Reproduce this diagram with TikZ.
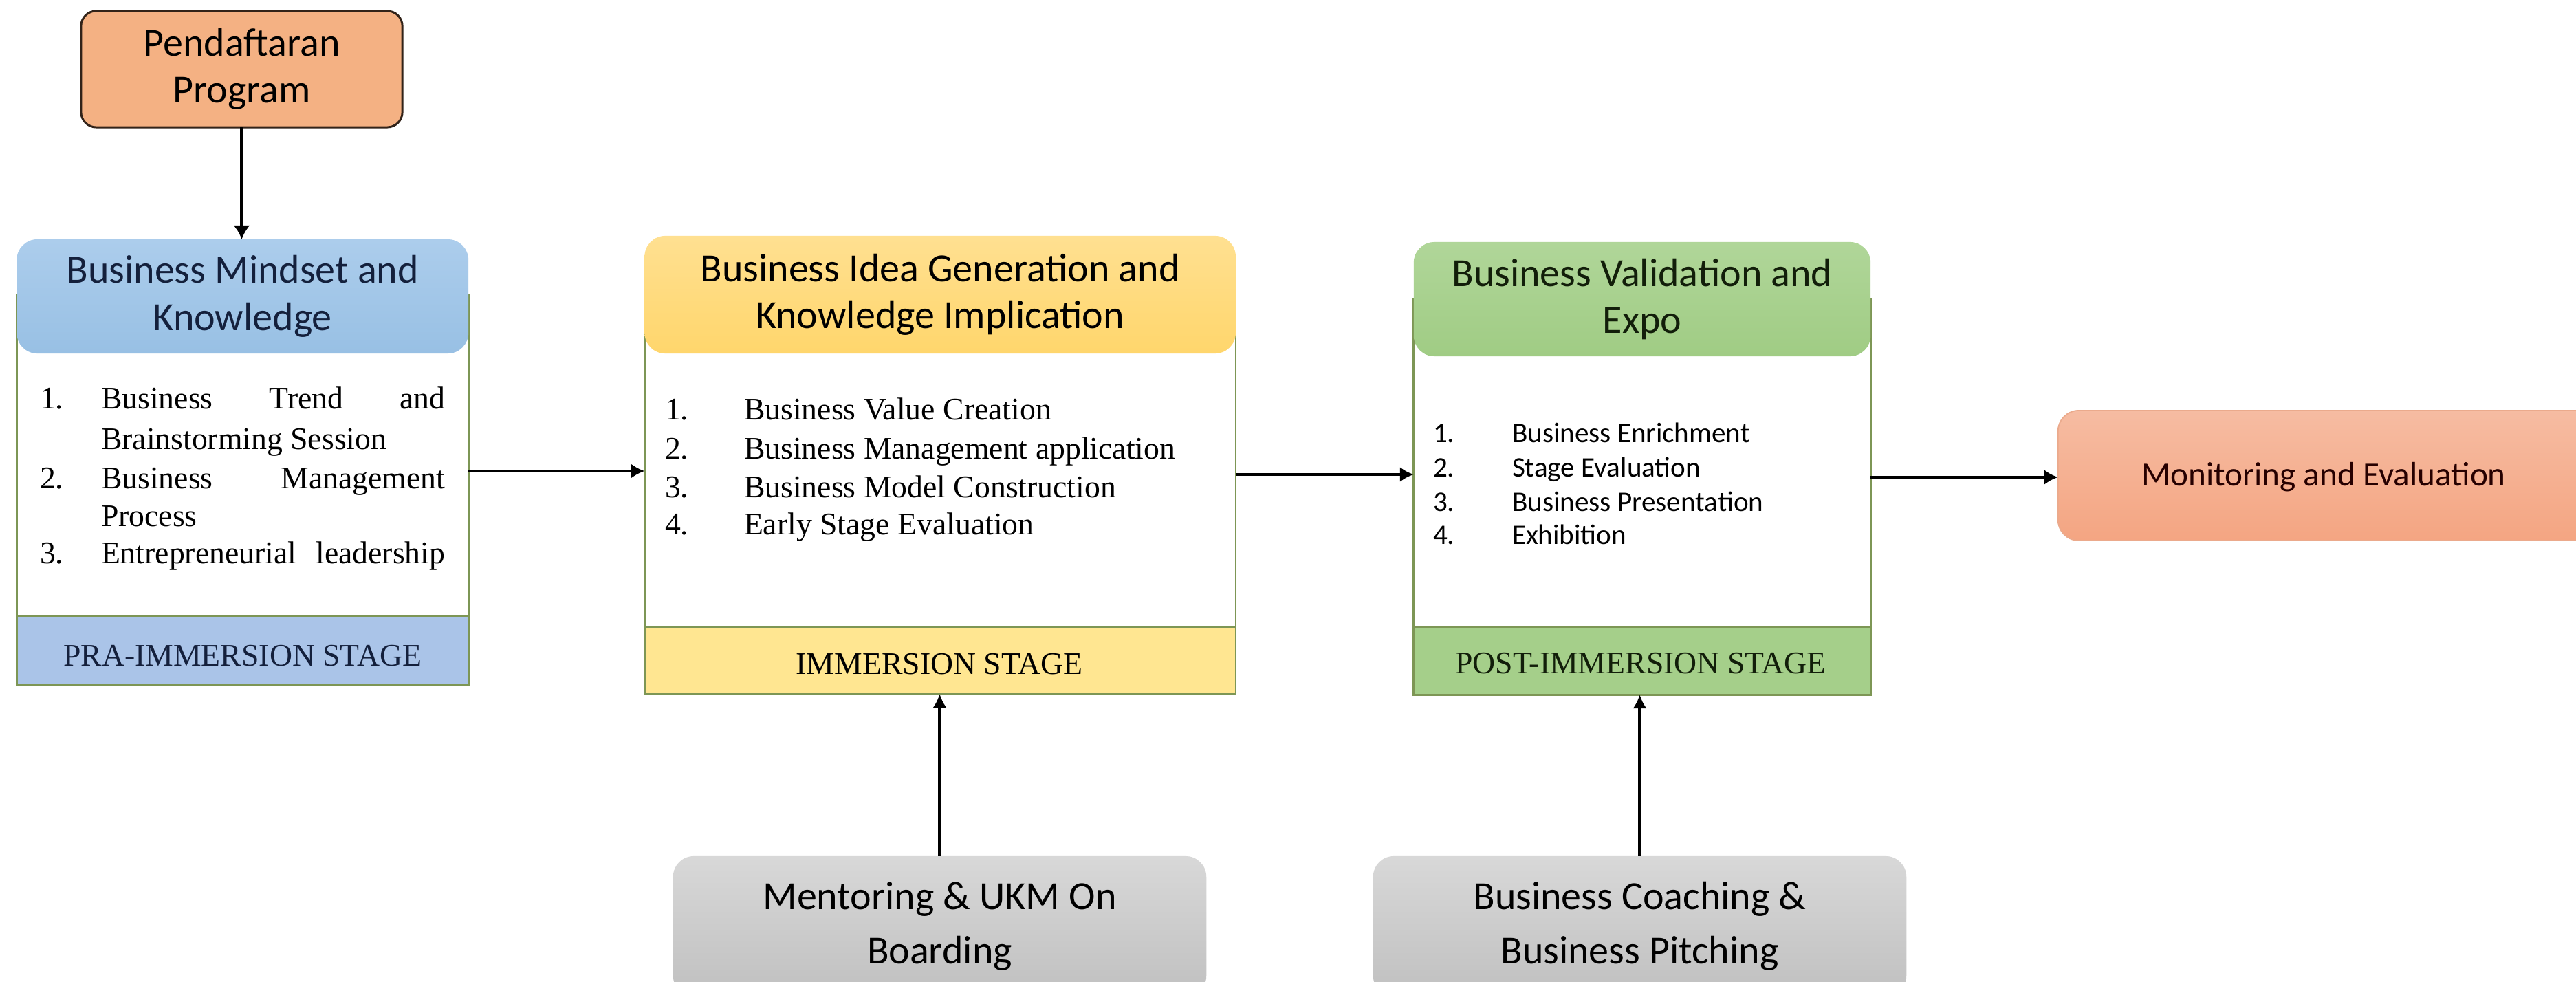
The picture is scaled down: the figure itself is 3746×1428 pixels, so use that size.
\documentclass[tikz,border=0pt]{standalone}
\usepackage{fontspec}
\setmainfont{Liberation Serif}
\newfontfamily\calfont{Carlito}
\usetikzlibrary{arrows.meta}
\definecolor{pendfill}{RGB}{244,177,131}
\definecolor{penddraw}{RGB}{50,35,25}
\definecolor{blueH}{RGB}{152,192,228}
\definecolor{blueHt}{RGB}{172,205,236}
\definecolor{blueF}{RGB}{170,196,232}
\definecolor{yellH}{RGB}{255,214,108}
\definecolor{yellHt}{RGB}{255,224,145}
\definecolor{yellF}{RGB}{255,230,145}
\definecolor{greenH}{RGB}{160,204,132}
\definecolor{greenHt}{RGB}{176,214,153}
\definecolor{greenF}{RGB}{165,207,138}
\definecolor{frameC}{RGB}{125,150,85}
\definecolor{monT}{RGB}{246,188,162}
\definecolor{monB}{RGB}{244,165,130}
\definecolor{monD}{RGB}{235,170,140}
\definecolor{greyT}{RGB}{216,216,216}
\definecolor{greyB}{RGB}{192,192,192}
\definecolor{navyT}{RGB}{20,32,60}
\definecolor{greenTx}{RGB}{18,30,10}
\begin{document}
\begin{tikzpicture}[x=0.01cm,y=-0.01cm,
  every node/.style={inner sep=0pt,outer sep=0pt},
  calbig/.style={font=\calfont\fontsize{16.5}{19.5}\selectfont},
  headbox/.style={rounded corners=0.3cm,align=center,calbig},
  framebox/.style={draw=frameC,line width=0.8pt,fill=white},
  footbox/.style={draw=frameC,line width=0.8pt},
  footT/.style={font=\fontsize{13}{15}\selectfont},
  listT/.style={anchor=base west,font=\fontsize{13}{15}\selectfont},
  listC/.style={anchor=base west,font=\calfont\fontsize{11.7}{14}\selectfont},
  greybox/.style={rounded corners=0.3cm,top color=greyT,bottom color=greyB,draw=none},
  arrA/.style={draw=black,line width=1.6pt,-{Latex[length=0.2cm,width=0.24cm]}},
  arrB/.style={draw=black,line width=1.4pt,-{Latex[length=0.2cm,width=0.22cm]}},
  arrC/.style={draw=black,line width=1.2pt,-{Latex[length=0.2cm,width=0.2cm]}}]
\clip (0,0) rectangle (3746,1428);
\fill[white] (0,0) rectangle (3746,1428);

% Pendaftaran
\node[draw=penddraw,line width=0.85pt,fill=pendfill,rounded corners=0.22cm,
      minimum width=4.67cm,minimum height=1.69cm,align=center,calbig] (pend) at (351.5,100.5) {Pendaftaran\\Program};

% Box 1
\node[framebox,minimum width=6.565cm,minimum height=5.65cm] (b1) at (352.75,712.5) {};
\node[headbox,top color=blueHt,bottom color=blueH,minimum width=6.565cm,minimum height=1.66cm,text=navyT] (b1h) at (352.75,431) {Business Mindset and\\Knowledge};
\node[footbox,fill=blueF,minimum width=6.565cm,minimum height=0.99cm] (b1f) at (352.75,945.5) {};
\node[footT,text=navyT] (b1ft) at (352.75,954) {PRA-IMMERSION STAGE};
\node[listT] (b1n1) at (58,595) {1.};
\node[listT] (b1t1) at (147,595) {\makebox[5cm][s]{Business\hfill Trend\hfill and}};
\node[listT] (b1t1b) at (147,653) {Brainstorming Session};
\node[listT] (b1n2) at (58,710) {2.};
\node[listT] (b1t2) at (147,710) {\makebox[5cm][s]{Business\hfill Management}};
\node[listT] (b1t2b) at (147,765) {Process};
\node[listT] (b1n3) at (58,819) {3.};
\node[listT] (b1t3) at (147,819) {\makebox[5cm][s]{Entrepreneurial\hfill leadership}};

% Box 2
\node[framebox,minimum width=8.591cm,minimum height=5.79cm] (b2) at (1367.15,719.5) {};
\node[headbox,top color=yellHt,bottom color=yellH,minimum width=8.591cm,minimum height=1.71cm] (b2h) at (1367.15,428.5) {Business Idea Generation and\\Knowledge Implication};
\node[footbox,fill=yellF,minimum width=8.591cm,minimum height=0.97cm] (b2f) at (1367.15,960.5) {};
\node[footT] (b2ft) at (1366,966) {IMMERSION STAGE};
\node[listT] (b2n1) at (967,611) {1.};
\node[listT] (b2t1) at (1082,611) {Business Value Creation};
\node[listT] (b2n2) at (967,667) {2.};
\node[listT] (b2t2) at (1082,667) {Business Management application};
\node[listT] (b2n3) at (967,723) {3.};
\node[listT] (b2t3) at (1082,723) {Business Model Construction};
\node[listT] (b2n4) at (967,777) {4.};
\node[listT] (b2t4) at (1082,777) {Early Stage Evaluation};

% Box 3
\node[framebox,minimum width=6.64cm,minimum height=5.75cm] (b3) at (2388,722.5) {};
\node[headbox,top color=greenHt,bottom color=greenH,minimum width=6.64cm,minimum height=1.66cm,text=greenTx] (b3h) at (2388,435) {Business Validation and\\Expo};
\node[footbox,fill=greenF,minimum width=6.64cm,minimum height=0.98cm] (b3f) at (2388,961) {};
\node[footT,text=greenTx] (b3ft) at (2386,965) {POST-IMMERSION STAGE};
\node[listC] (b3n1) at (2084,643) {1.};
\node[listC] (b3t1) at (2199,643) {Business Enrichment};
\node[listC] (b3n2) at (2084,693) {2.};
\node[listC] (b3t2) at (2199,693) {Stage Evaluation};
\node[listC] (b3n3) at (2084,743) {3.};
\node[listC] (b3t3) at (2199,743) {Business Presentation};
\node[listC] (b3n4) at (2084,791) {4.};
\node[listC] (b3t4) at (2199,791) {Exhibition};

% Monitoring
\node[rounded corners=0.3cm,top color=monT,bottom color=monB,draw=monD,line width=0.5pt,
      minimum width=7.87cm,minimum height=1.89cm] (mon) at (3386.5,691.5) {};
\node[font=\calfont\fontsize{14}{16}\selectfont,text=black!85!red] (mont) at (3379,694) {Monitoring and Evaluation};

% Bottom boxes
\node[greybox,minimum width=7.75cm,minimum height=2.04cm,align=center,calbig] (ment) at (1366.5,1347) {Mentoring \& UKM On\\[0.1cm]Boarding};
\node[greybox,minimum width=7.75cm,minimum height=2.04cm,align=center,calbig] (coach) at (2384.5,1347) {Business Coaching \&\\[0.1cm]Business Pitching};

% Connectors
\coordinate (y12) at (0,685);
\coordinate (y23) at (0,690);
\coordinate (y3m) at (0,694);
\draw[arrA] (pend.south) -- (pend.south |- b1h.north);
\draw[arrB] (b1.east |- y12) -- (b2.west |- y12);
\draw[arrB] (b2.east |- y23) -- (b3.west |- y23);
\draw[arrB] (b3.east |- y3m) -- (mon.west |- y3m);
\draw[arrC] (ment.north) -- (ment.north |- b2f.south);
\draw[arrC] (coach.north) -- (coach.north |- b3f.south);
\end{tikzpicture}
\end{document}
